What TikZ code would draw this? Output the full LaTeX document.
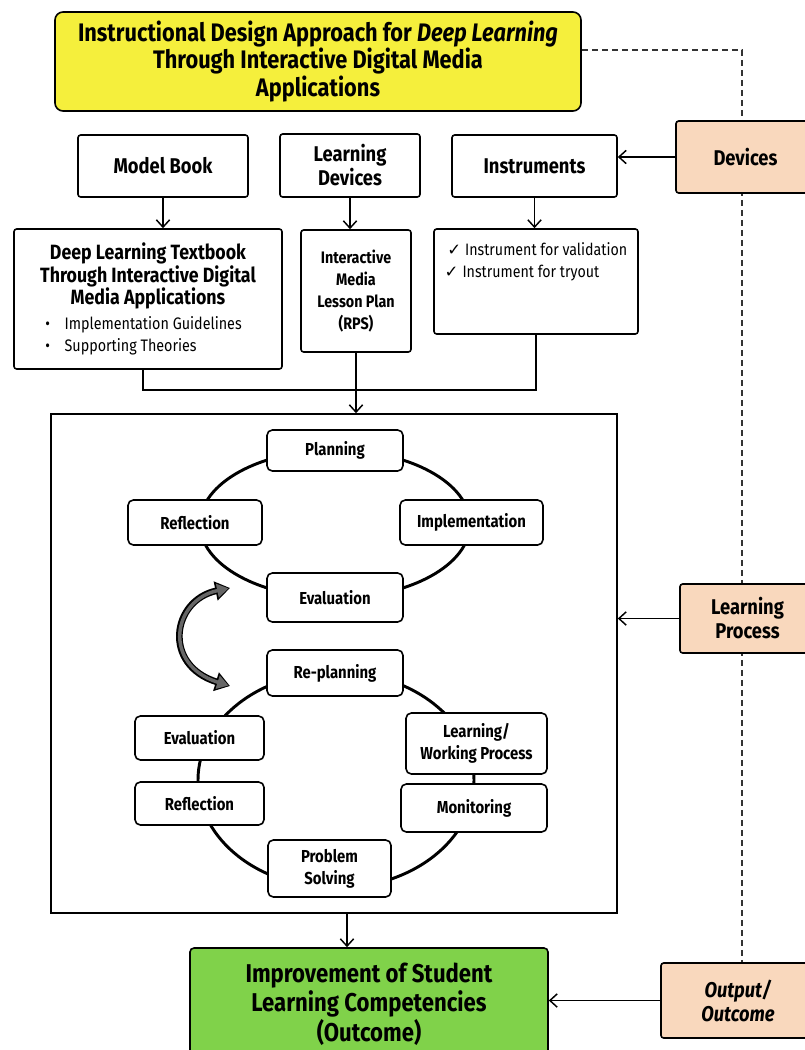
\documentclass[tikz,border=0pt]{standalone}
\usepackage{fontspec}
\setmainfont{Fira Sans}[FakeStretch=0.86]
\newfontfamily\symfont{DejaVu Sans}
\usetikzlibrary{arrows.meta}
\definecolor{titleyellow}{HTML}{F5EF3C}
\definecolor{peach}{HTML}{F9D8BD}
\definecolor{leafgreen}{HTML}{80D24A}
\def\pxu{0.75pt}
\tikzset{
  box/.style={draw, line width=1.2pt, rounded corners=2pt, fill=white, align=center, inner sep=2pt,
    font=\fontsize{16}{18}\selectfont\bfseries},
  stage/.style={box, rounded corners=4pt, font=\fontsize{13}{16.5}\selectfont\bfseries},
  side/.style={box, fill=peach, font=\fontsize{16}{18}\selectfont\bfseries},
  cycle/.style={line width=2.2pt},
}

\begin{document}
\begin{tikzpicture}[>={Straight Barb[length=5.5pt,width=10pt]}, x=0.75pt, y=-0.75pt, line width=1.1pt]
  \useasboundingbox (0,0) rectangle (805,1050);

  % dashed guide on the right
  \coordinate (dk) at (742,50);
  \node[box, fill=titleyellow, rounded corners=6pt, minimum width=526*\pxu, minimum height=99*\pxu,
    font=\fontsize{19}{20.5}\selectfont\bfseries] (tt) at (318,61.5)
    {Instructional Design Approach for \textit{Deep Learning}\\Through Interactive Digital Media\\Applications};
  \draw[dashed, dash pattern=on 4.5pt off 3pt, line width=0.9pt, black!80] (tt.east |- dk) -- (dk) -- (742,965);

  % side labels
  \node[side, minimum width=139*\pxu, minimum height=72*\pxu] (dev) at (745.5,157) {Devices};
  \node[side, minimum width=135*\pxu, minimum height=69*\pxu] (lp) at (747.5,618.5) {Learning\\Process};
  \node[side, minimum width=154*\pxu, minimum height=75*\pxu] (out) at (738,1000.5) {\textit{Output/}\\\textit{Outcome}};

  % upper row
  \node[box, minimum width=170*\pxu, minimum height=62*\pxu] (mb) at (163,166) {Model Book};
  \node[box, minimum width=140*\pxu, minimum height=63*\pxu] (ld) at (350,165.5) {Learning\\Devices};
  \node[box, minimum width=165*\pxu, minimum height=62*\pxu] (ins) at (534.5,166) {Instruments};

  \node[box, minimum width=268*\pxu, minimum height=140*\pxu, align=left, inner sep=0pt] (tb) at (148,299)
    {\parbox{192pt}{\centering\fontsize{15.5}{17}\selectfont\bfseries Deep Learning Textbook\\Through Interactive Digital\\Media Applications\par
     \vspace{2pt}\raggedright\fontsize{12.5}{16.5}\selectfont\mdseries
     \hspace{19pt}\textbullet\hspace{11pt}Implementation Guidelines\\
     \hspace{19pt}\textbullet\hspace{11pt}Supporting Theories}};
  \node[box, minimum width=110*\pxu, minimum height=122*\pxu, font=\fontsize{12.5}{16.5}\selectfont\bfseries] (im) at (356,291)
    {Interactive\\Media\\Lesson Plan\\(RPS)};
  \node[box, minimum width=204*\pxu, minimum height=105*\pxu, inner sep=0pt] (lst) at (536,281.5)
    {\parbox[c][58pt][t]{137pt}{\fontsize{12.4}{16}\selectfont\mdseries
     \hspace{2pt}{\symfont ✓}\hspace{3pt}Instrument for validation\\
     \hspace{2pt}{\symfont ✓}\hspace{3pt}Instrument for tryout}};

  \draw[->] (mb.south) -- (mb.south |- tb.north);
  \draw[->] (ld.south) -- (ld.south |- im.north);
  \draw[->] (ins.south) -- (ins.south |- lst.north);
  \draw[->] (dev.west) -- (dev.west -| ins.east);

  % learning process frame
  \node[draw, line width=1.2pt, minimum width=566*\pxu, minimum height=499*\pxu] (big) at (334,663.5) {};
  \coordinate (jn) at (352,390);
  \draw ([xshift=-3.75pt]tb.south) |- (jn) -| (lst.south);
  \draw[->] (im.south) -- (im.south |- big.north);
  \draw[->] (lp.west) -- (lp.west -| big.east);

  % first cycle
  \draw[cycle] (335,524) ellipse [x radius=135, y radius=74];
  \node[stage, minimum width=136*\pxu, minimum height=41*\pxu] (pl) at (335,450.5) {Planning};
  \node[stage, minimum width=134*\pxu, minimum height=45*\pxu] (rf1) at (195,522.5) {Reflection};
  \node[stage, minimum width=143*\pxu, minimum height=45*\pxu] (impl) at (471.5,522.5) {Implementation};
  \node[stage, minimum width=136*\pxu, minimum height=49*\pxu] (ev1) at (335,597.5) {Evaluation};

  % second cycle
  \draw[cycle] (336,780) ellipse [x radius=138, y radius=108];
  \node[stage, minimum width=136*\pxu, minimum height=46*\pxu] (rp) at (335,673) {Re-planning};
  \node[stage, minimum width=129*\pxu, minimum height=44*\pxu] (ev2) at (199.5,738) {Evaluation};
  \node[stage, minimum width=129*\pxu, minimum height=43*\pxu] (rf2) at (199.5,803.5) {Reflection};
  \node[stage, minimum width=141*\pxu, minimum height=61*\pxu] (lw) at (476.5,743.5) {Learning/\\Working Process};
  \node[stage, minimum width=146*\pxu, minimum height=48*\pxu] (mon) at (474,808) {Monitoring};
  \node[stage, minimum width=123*\pxu, minimum height=57*\pxu] (ps) at (329.5,868.5) {Problem\\Solving};

  % link between the cycles
  \coordinate (lkA) at (230,588);
  \coordinate (lkB) at (230,686);
  \draw[line width=5pt, black, {Triangle[length=11pt,width=14pt]}-{Triangle[length=11pt,width=14pt]}]
    (lkA) .. controls (172,600) and (162,665) .. (lkB);
  \draw[line width=2.6pt, black!60, shorten <=1.2pt, shorten >=1.2pt,
    {Triangle[length=8.5pt,width=10pt]}-{Triangle[length=8.5pt,width=10pt]}]
    (lkA) .. controls (172,600) and (162,665) .. (lkB);

  % outcome
  \node[box, fill=leafgreen, minimum width=358*\pxu, minimum height=112*\pxu, rounded corners=3pt,
    font=\fontsize{19.3}{22}\selectfont\bfseries] (gr) at (369,1004)
    {Improvement of Student\\Learning Competencies\\(Outcome)};
  \draw[->] ([xshift=9.75pt]big.south) -- ([xshift=9.75pt]big.south |- gr.north);
  \draw[->] (out.west) -- (out.west -| gr.east);
\end{tikzpicture}
\end{document}
